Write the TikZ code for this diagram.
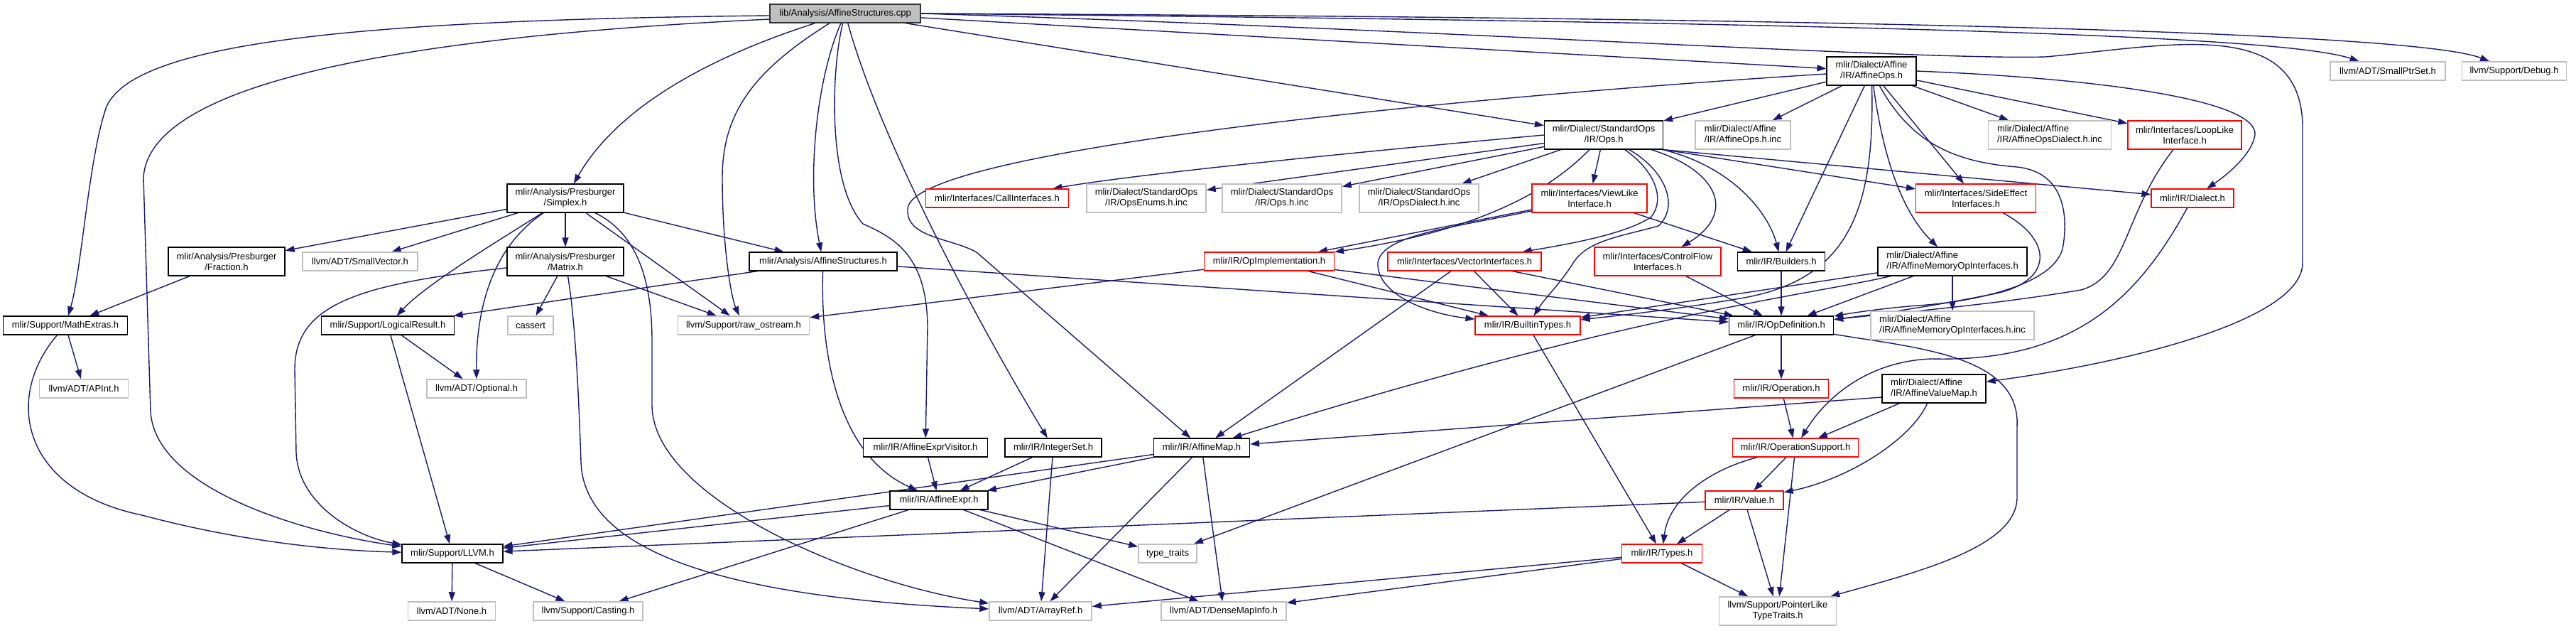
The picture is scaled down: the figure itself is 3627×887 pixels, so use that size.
\documentclass[tikz,border=0pt]{standalone}
\usepackage{fontspec}
\setmainfont{Liberation Sans}
\usetikzlibrary{arrows.meta}
\definecolor{edgeblue}{HTML}{191970}
\definecolor{grayfill}{HTML}{BFBFBF}
\definecolor{grayline}{HTML}{BFBFBF}
\definecolor{redline}{HTML}{FF0000}
\pgfdeclarelayer{bg}
\pgfsetlayers{bg,main}
\begin{document}
\begin{tikzpicture}[x=1pt,y=-1pt,
  bx/.style={rectangle, inner sep=0pt, minimum height=26pt, align=center, fill=white,
     font=\fontsize{13}{15}\selectfont, line width=1.2pt},
  blk/.style={bx, draw=black},
  rbx/.style={bx, draw=redline},
  gbx/.style={bx, draw=grayline, line width=1.5pt},
  two/.style={minimum height=40pt},
  ed/.style={draw=edgeblue, line width=1.4pt, -{Triangle[length=13pt,width=9pt]}}]
\useasboundingbox (0,0) rectangle (3627,887);
% nodes
\node[bx, fill=grayfill, draw=black!80, minimum width=212pt] (cpp) at (1190,19) {lib/Analysis/AffineStructures.cpp};
\node[blk, minimum width=175pt] (mathx) at (92,458) {mlir/Support/MathExtras.h};
\node[blk, minimum width=142pt] (llvm) at (637,779) {mlir/Support/LLVM.h};
\node[blk, two, minimum width=164pt] (simplex) at (796,279) {mlir/Analysis/Presburger\\/Simplex.h};
\node[blk, two, minimum width=164pt] (fraction) at (319,368) {mlir/Analysis/Presburger\\/Fraction.h};
\node[gbx, minimum width=162pt] (smallvec) at (507,368) {llvm/ADT/SmallVector.h};
\node[blk, two, minimum width=164pt] (matrix) at (796,368) {mlir/Analysis/Presburger\\/Matrix.h};
\node[blk, minimum width=187pt] (logres) at (546,458) {mlir/Support/LogicalResult.h};
\node[gbx, minimum width=64pt] (cassert) at (747,458) {cassert};
\node[gbx, minimum width=125pt] (apint) at (118,547) {llvm/ADT/APInt.h};
\node[gbx, minimum width=140pt] (optional) at (671,547) {llvm/ADT/Optional.h};
\node[gbx, minimum width=123pt] (none) at (636,860) {llvm/ADT/None.h};
\node[gbx, minimum width=154pt] (casting) at (828,860) {llvm/Support/Casting.h};
\node[gbx, minimum width=185pt] (rawos) at (1047,458) {llvm/Support/raw\_ostream.h};
\node[blk, minimum width=208pt] (affstruct) at (1159,368) {mlir/Analysis/AffineStructures.h};
\node[rbx, minimum width=201pt] (callif) at (1404,279) {mlir/Interfaces/CallInterfaces.h};
\node[gbx, two, minimum width=168pt] (opsenums) at (1614,279) {mlir/Dialect/StandardOps\\/IR/OpsEnums.h.inc};
\node[gbx, two, minimum width=168pt] (opshinc) at (1805,279) {mlir/Dialect/StandardOps\\/IR/Ops.h.inc};
\node[gbx, two, minimum width=168pt] (opsdialect) at (1998,279) {mlir/Dialect/StandardOps\\/IR/OpsDialect.h.inc};
\node[rbx, two, minimum width=162pt] (viewlike) at (2238,279) {mlir/Interfaces/ViewLike\\Interface.h};
\node[rbx, two, minimum width=169pt] (sideeff) at (2782,279) {mlir/Interfaces/SideEffect\\Interfaces.h};
\node[rbx, minimum width=116pt] (dialect) at (3087,279) {mlir/IR/Dialect.h};
\node[blk, two, minimum width=126pt] (affops) at (2635,100) {mlir/Dialect/Affine\\/IR/AffineOps.h};
\node[blk, two, minimum width=167pt] (stdops) at (2258,190) {mlir/Dialect/StandardOps\\/IR/Ops.h};
\node[gbx, two, minimum width=134pt, align=left] (affopshinc) at (2454,190) {mlir/Dialect/Affine\\/IR/AffineOps.h.inc};
\node[gbx, two, minimum width=173pt, align=left] (affdialhinc) at (2886,190) {mlir/Dialect/Affine\\/IR/AffineOpsDialect.h.inc};
\node[rbx, two, minimum width=160pt] (looplike) at (3076,190) {mlir/Interfaces/LoopLike\\Interface.h};
\node[gbx, minimum width=162pt] (smallptr) at (3362,100) {llvm/ADT/SmallPtrSet.h};
\node[gbx, minimum width=147pt] (debug) at (3540,100) {llvm/Support/Debug.h};
\node[rbx, minimum width=183pt] (opimpl) at (1787,368) {mlir/IR/OpImplementation.h};
\node[rbx, minimum width=216pt] (vecif) at (2062,368) {mlir/Interfaces/VectorInterfaces.h};
\node[rbx, two, minimum width=178pt] (ctrlflow) at (2334,368) {mlir/Interfaces/ControlFlow\\Interfaces.h};
\node[blk, minimum width=123pt] (builders) at (2508,368) {mlir/IR/Builders.h};
\node[blk, two, minimum width=210pt, align=left] (affmemop) at (2749,368) {mlir/Dialect/Affine\\/IR/AffineMemoryOpInterfaces.h};
\node[rbx, minimum width=148pt] (builtin) at (2151,458) {mlir/IR/BuiltinTypes.h};
\node[blk, minimum width=147pt] (opdef) at (2508,458) {mlir/IR/OpDefinition.h};
\node[gbx, two, minimum width=230pt, align=left] (affmemhinc) at (2749,458) {mlir/Dialect/Affine\\/IR/AffineMemoryOpInterfaces.h.inc};
\node[rbx, minimum width=133pt] (operation) at (2508,547) {mlir/IR/Operation.h};
\node[blk, two, minimum width=146pt, align=left] (affvalmap) at (2723,547) {mlir/Dialect/Affine\\/IR/AffineValueMap.h};
\node[rbx, minimum width=177pt] (opsupport) at (2528,630) {mlir/IR/OperationSupport.h};
\node[blk, minimum width=175pt] (exprvis) at (1303,630) {mlir/IR/AffineExprVisitor.h};
\node[blk, minimum width=136pt] (intset) at (1483,630) {mlir/IR/IntegerSet.h};
\node[blk, minimum width=135pt] (affmap) at (1692,630) {mlir/IR/AffineMap.h};
\node[blk, minimum width=138pt] (affexpr) at (1322,704) {mlir/IR/AffineExpr.h};
\node[rbx, minimum width=110pt] (value) at (2456,704) {mlir/IR/Value.h};
\node[rbx, minimum width=113pt] (types) at (2340,779) {mlir/IR/Types.h};
\node[gbx, minimum width=82pt] (typetraits) at (1644,779) {type\_traits};
\node[gbx, minimum width=144pt] (arrayref) at (1465,860) {llvm/ADT/ArrayRef.h};
\node[gbx, minimum width=176pt] (densemap) at (1723,860) {llvm/ADT/DenseMapInfo.h};
\node[gbx, two, minimum width=165pt] (ptrlike) at (2503,860) {llvm/Support/PointerLike\\TypeTraits.h};
% edges
\begin{pgfonlayer}{bg}
% from the .cpp file
\draw[ed] ([yshift=-3pt]cpp.west) .. controls (500,28) and (190,60) .. (150,150) .. controls (125,220) and (115,380) .. (mathx);
\draw[ed] ([yshift=-8pt]cpp.west) .. controls (600,50) and (210,110) .. (202,250) -- (212,580) .. controls (220,690) and (430,750) .. (llvm);
\draw[ed] (cpp) .. controls (1000,80) and (870,150) .. (simplex);
\draw[ed] (cpp) .. controls (1060,100) and (1017,160) .. (1017,250) .. controls (1017,350) and (1030,420) .. (rawos);
\draw[ed] (cpp) .. controls (1150,110) and (1135,250) .. (affstruct);
\draw[ed] (cpp) .. controls (1170,100) and (1165,260) .. (1215,315) .. controls (1260,335) and (1305,360) .. (1306,460) -- (exprvis);
\draw[ed] (cpp) .. controls (1240,200) and (1380,460) .. (intset);
\draw[ed] (cpp) -- (stdops);
\draw[ed] (cpp) -- (affops);
\draw[ed] (cpp.east) .. controls (2400,30) and (3200,45) .. (smallptr);
\draw[ed] (cpp.east) .. controls (2600,25) and (3400,45) .. (debug);
\draw[ed] (cpp.east) .. controls (2000,40) and (2700,85) .. (2880,80) .. controls (3050,65) and (3242,20) .. (3242,180) -- (3242,370) .. controls (3242,450) and (3000,510) .. (affvalmap);
% Simplex
\draw[ed] (simplex) -- (fraction);
\draw[ed] (simplex) -- (smallvec);
\draw[ed] (simplex) -- (matrix);
\draw[ed] (simplex) .. controls (700,340) and (600,400) .. (logres);
\draw[ed] (simplex) .. controls (690,350) and (670,440) .. (optional);
\draw[ed] (simplex) .. controls (900,330) and (918,400) .. (918,480) -- (918,570) .. controls (918,700) and (1200,820) .. (arrayref);
\draw[ed] (simplex) -- (rawos);
\draw[ed] (simplex) -- (affstruct);
% Matrix
\draw[ed] (matrix) .. controls (500,400) and (415,430) .. (415,520) -- (417,637) .. controls (420,710) and (500,755) .. (llvm);
\draw[ed] (matrix) -- (cassert);
\draw[ed] (matrix) .. controls (810,450) and (815,560) .. (818,650) .. controls (822,770) and (1000,840) .. (arrayref);
\draw[ed] (matrix) -- (rawos);
% support
\draw[ed] (fraction) -- (mathx);
\draw[ed] (mathx) -- (apint);
\draw[ed] (mathx) .. controls (5,560) and (30,690) .. (200,725) .. controls (350,765) and (480,775) .. (llvm);
\draw[ed] (logres) -- (optional);
\draw[ed] (logres) -- (llvm);
\draw[ed] (llvm) -- (none);
\draw[ed] (llvm) -- (casting);
% AffineStructures.h
\draw[ed] (affstruct) -- (logres);
\draw[ed] (affstruct) .. controls (1155,500) and (1180,640) .. (affexpr);
\draw[ed] (affstruct) -- (opdef);
% affine expr family
\draw[ed] (exprvis) -- (affexpr);
\draw[ed] (intset) -- (affexpr);
\draw[ed] (intset) -- (arrayref);
\draw[ed] (affmap) -- (affexpr);
\draw[ed] (affmap) -- (llvm);
\draw[ed] (affmap) -- (arrayref);
\draw[ed] (affmap) -- (densemap);
\draw[ed] (affexpr) -- (llvm);
\draw[ed] (affexpr) -- (casting);
\draw[ed] (affexpr) -- (typetraits);
\draw[ed] (affexpr) -- (densemap);
% AffineOps.h
\draw[ed] (affops) -- (stdops);
\draw[ed] (affops) -- (affopshinc);
\draw[ed] (affops) -- (builders);
\draw[ed] (affops) .. controls (2640,300) and (2600,395) .. (2450,420) .. controls (2350,437) and (2270,445) .. (builtin);
\draw[ed] (affops) .. controls (2655,250) and (2690,310) .. (affmemop);
\draw[ed] (affops) -- (sideeff);
\draw[ed] (affops) -- (affdialhinc);
\draw[ed] (affops) -- (looplike);
\draw[ed] (affops.east) .. controls (2950,110) and (3180,140) .. (3175,190) .. controls (3170,220) and (3130,250) .. (dialect);
\draw[ed] (affops) .. controls (2690,200) and (2750,228) .. (2840,235) .. controls (2905,242) and (2912,300) .. (2905,345) .. controls (2898,400) and (2780,425) .. (2700,430) .. controls (2650,434) and (2610,440) .. (opdef);
\draw[ed] (affops) .. controls (2000,140) and (1275,215) .. (1278,295) .. controls (1276,335) and (1340,335) .. (1375,355) -- (affmap);
% StandardOps Ops.h
\draw[ed] (stdops.west) .. controls (1900,215) and (1600,245) .. (callif);
\draw[ed] (stdops) -- (opsenums);
\draw[ed] (stdops) -- (opshinc);
\draw[ed] (stdops) -- (opsdialect);
\draw[ed] (stdops) -- (viewlike);
\draw[ed] (stdops) .. controls (2180,270) and (2080,325) .. (opimpl);
\draw[ed] (stdops) .. controls (2330,240) and (2345,280) .. (2325,305) .. controls (2290,330) and (2200,345) .. (vecif);
\draw[ed] (stdops) .. controls (2345,240) and (2365,290) .. (2335,318) .. controls (2285,332) and (2235,338) .. (2215,370) .. controls (2200,395) and (2175,420) .. (builtin);
\draw[ed] (stdops) .. controls (2420,240) and (2445,300) .. (ctrlflow);
\draw[ed] (stdops) .. controls (2440,235) and (2490,300) .. (builders);
\draw[ed] (stdops.south east) -- (sideeff);
\draw[ed] (stdops.south east) -- (dialect);
% interfaces
\draw[ed] (viewlike) -- (opimpl);
\draw[ed] (viewlike) -- (builders);
\draw[ed] (viewlike) .. controls (2050,320) and (1945,330) .. (1940,370) .. controls (1938,410) and (2000,440) .. (builtin);
\draw[ed] (opimpl) -- (rawos);
\draw[ed] (opimpl) -- (builtin);
\draw[ed] (opimpl) -- (opdef);
\draw[ed] (vecif) -- (affmap);
\draw[ed] (vecif) -- (builtin);
\draw[ed] (vecif) -- (opdef);
\draw[ed] (ctrlflow) -- (opdef);
\draw[ed] (builders) -- (opdef);
\draw[ed] (affmemop) -- (builtin);
\draw[ed] (affmemop) .. controls (2550,415) and (2300,440) .. (affmap);
\draw[ed] (affmemop) -- (opdef);
\draw[ed] (affmemop) -- (affmemhinc);
\draw[ed] (sideeff) .. controls (2895,340) and (2890,400) .. (2800,415) .. controls (2700,435) and (2620,445) .. (opdef);
\draw[ed] (looplike) .. controls (2990,300) and (2995,390) .. (2930,408) .. controls (2800,430) and (2650,442) .. (opdef);
\draw[ed] (dialect) .. controls (3010,420) and (2920,510) .. (2720,505) .. controls (2630,508) and (2570,560) .. (opsupport);
% IR core
\draw[ed] (builtin) -- (types);
\draw[ed] (opdef) -- (operation);
\draw[ed] (opdef) -- (typetraits);
\draw[ed] (opdef) .. controls (2700,490) and (2845,500) .. (2840,600) -- (2840,700) .. controls (2840,770) and (2700,805) .. (ptrlike);
\draw[ed] (operation) -- (opsupport);
\draw[ed] ([yshift=-12pt]affvalmap.west) -- (affmap);
\draw[ed] (affvalmap) -- (opsupport);
\draw[ed] (affvalmap) .. controls (2690,620) and (2600,675) .. (value);
\draw[ed] (opsupport) -- (value);
\draw[ed] (opsupport) .. controls (2410,660) and (2350,700) .. (types);
\draw[ed] (opsupport) -- (ptrlike);
\draw[ed] (value) -- (types);
\draw[ed] (value) -- (ptrlike);
\draw[ed] (value) -- (llvm);
\draw[ed] (types) -- (ptrlike);
\draw[ed] (types) -- (arrayref);
\draw[ed] (types) -- (densemap);
\end{pgfonlayer}
\end{tikzpicture}
\end{document}
